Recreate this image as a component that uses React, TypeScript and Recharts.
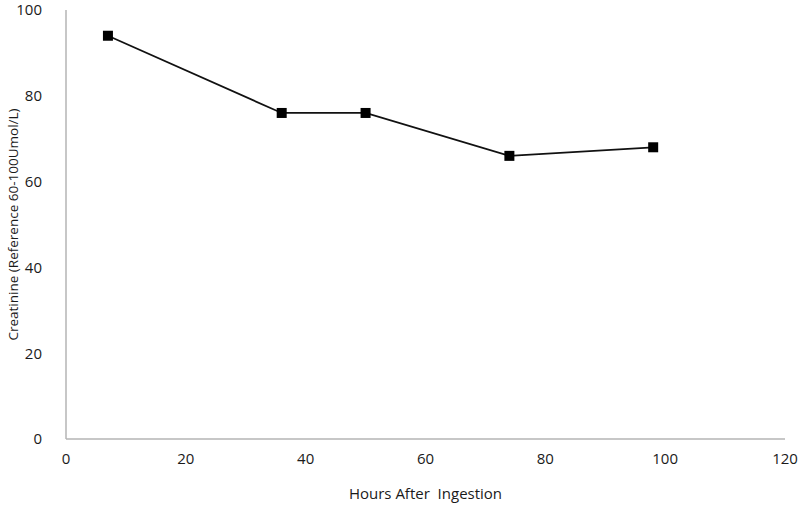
import { LineChart, Line, XAxis, YAxis } from "recharts";

const hours = [7, 36, 50, 74, 98];
const creatinine = [94, 76, 76, 66, 68];
const xTicks = [0, 20, 40, 60, 80, 100, 120];
const yTicks = [0, 20, 40, 60, 80, 100];

const data = hours.map((h, i) => ({ hours: h, value: creatinine[i] }));

const font = "'Open Sans', 'Noto Sans', sans-serif";
const tickStyle = { fontSize: 15, fill: "#1a1a1a", fontFamily: font };

function SquareDot(props: any) {
  const { cx, cy, index } = props;
  if (cx == null || cy == null) return null;
  return <rect key={index} x={cx - 5} y={cy - 5} width={10} height={10} fill="#000" />;
}

export default function App() {
  return (
    <div style={{ position: "absolute", left: 0, top: 0, background: "#fff" }}>
      <LineChart
        width={800}
        height={510}
        data={data}
        margin={{ top: 10, right: 15, bottom: 0, left: 0 }}
      >
        <XAxis
          dataKey="hours"
          type="number"
          domain={[0, 120]}
          ticks={xTicks}
          tickLine={false}
          tickMargin={8}
          height={71}
          axisLine={{ stroke: "#b5b5b5", strokeWidth: 1.5 }}
          tick={tickStyle}
          label={{
            value: "Hours After\u00a0 Ingestion",
            position: "insideBottom",
            offset: 11,
            style: { fontSize: 15, fill: "#1a1a1a", fontFamily: font },
          }}
        />
        <YAxis
          type="number"
          domain={[0, 100]}
          ticks={yTicks}
          tickLine={false}
          tickMargin={18}
          width={66}
          axisLine={{ stroke: "#b5b5b5", strokeWidth: 1.5 }}
          tick={tickStyle}
          label={{
            value: "Creatinine (Reference 60-100Umol/L)",
            angle: -90,
            position: "center",
            dx: -20,
            style: { fontSize: 13.5, fill: "#1a1a1a", fontFamily: font },
          }}
        />
        <Line
          dataKey="value"
          stroke="#111"
          strokeWidth={1.8}
          dot={SquareDot}
          activeDot={false}
          isAnimationActive={false}
        />
      </LineChart>
    </div>
  );
}
